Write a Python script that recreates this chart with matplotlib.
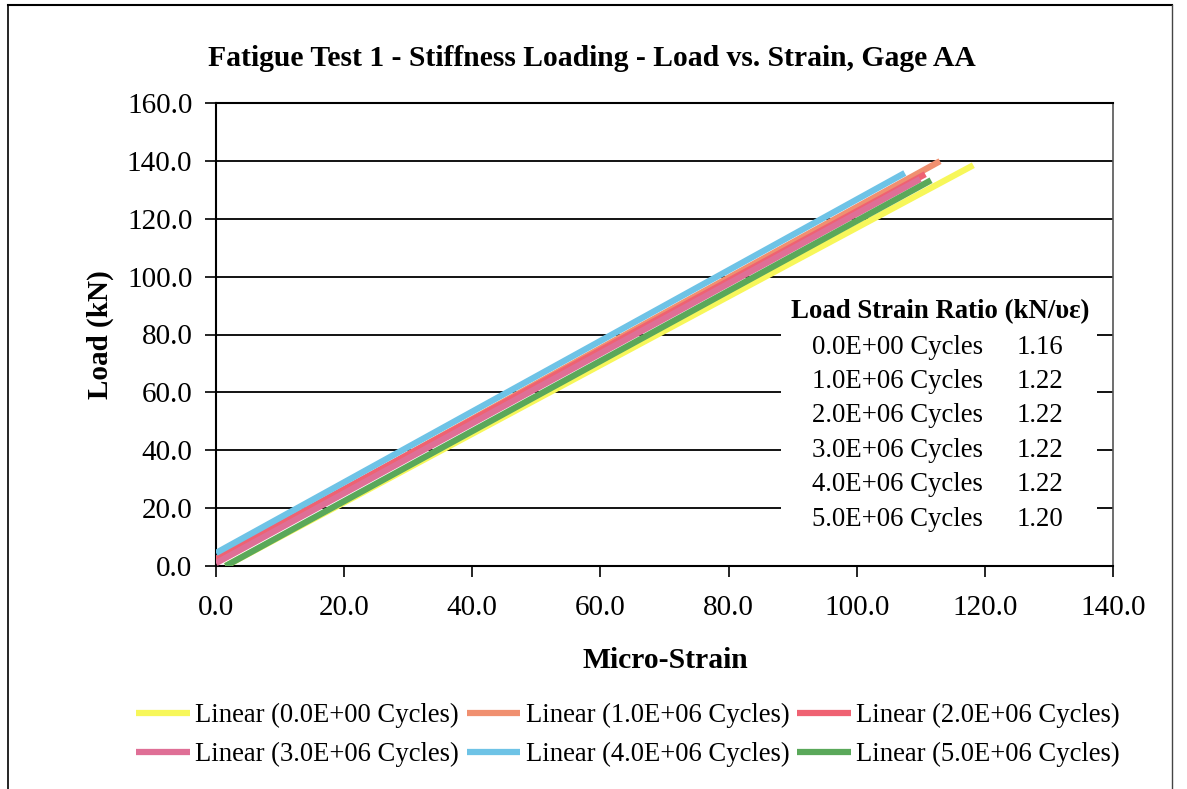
import matplotlib
matplotlib.use("Agg")
import matplotlib.pyplot as plt
from matplotlib.lines import Line2D
from matplotlib.patches import Rectangle

plt.rcParams['font.family'] = ['Liberation Serif', 'DejaVu Serif']

# ---- data ----
series_labels = ["Linear (0.0E+00 Cycles)", "Linear (1.0E+06 Cycles)", "Linear (2.0E+06 Cycles)",
                 "Linear (3.0E+06 Cycles)", "Linear (4.0E+06 Cycles)", "Linear (5.0E+06 Cycles)"]
x_start = [1.5, 0.0, 0.0, 0.0, 0.0, 1.5]
x_end = [118.2, 113.0, 110.7, 109.9, 107.5, 111.6]
y_start = [0.0, 2.0, 2.5, 1.0, 4.5, 0.0]
y_end = [138.5, 139.9, 135.4, 133.7, 135.8, 133.3]
colors = ["#f7f75a", "#f09070", "#ef6272", "#df6f96", "#6ec3e6", "#5aa85a"]

table_title = "Load Strain Ratio (kN/\u03c5\u03b5)"
table_cycles = ["0.0E+00 Cycles", "1.0E+06 Cycles", "2.0E+06 Cycles",
                "3.0E+06 Cycles", "4.0E+06 Cycles", "5.0E+06 Cycles"]
table_ratio = [1.16, 1.22, 1.22, 1.22, 1.22, 1.20]

x_ticks = [0, 20, 40, 60, 80, 100, 120, 140]
y_ticks = [0, 20, 40, 60, 80, 100, 120, 140, 160]

W, H = 1187, 789
fig = plt.figure(figsize=(W / 100, H / 100), dpi=100)
fig.patch.set_facecolor("white")

L, R, T, B = 216, 1113, 103, 566
ax = fig.add_axes([L / W, 1 - B / H, (R - L) / W, (B - T) / H])
ax.set_xlim(0, 140)
ax.set_ylim(0, 160)
ax.set_xticks(x_ticks)
ax.set_yticks(y_ticks)
ax.set_xticklabels([f"{v:.1f}" for v in x_ticks])
ax.set_yticklabels([f"{v:.1f}" for v in y_ticks])
ax.tick_params(axis='both', direction='out', length=8, width=1.2, labelsize=21, colors='black')
ax.tick_params(axis='x', pad=13)
ax.tick_params(axis='y', pad=9)
ax.yaxis.grid(True, color='black', linewidth=1.3)
ax.set_axisbelow(True)
for s in ['left', 'bottom', 'top']:
    ax.spines[s].set_color('black')
    ax.spines[s].set_linewidth(1.5)
ax.spines['right'].set_color('#555555')
ax.spines['right'].set_linewidth(1.2)

handles = []
for i in range(len(series_labels)):
    ln, = ax.plot([x_start[i], x_end[i]], [y_start[i], y_end[i]], color=colors[i],
                  linewidth=4.5, solid_capstyle='butt', label=series_labels[i], zorder=3 + i * 0.1)
    handles.append(ln)

# table box
ax.add_patch(Rectangle((0.630, 0.067), 0.352, 0.529, transform=ax.transAxes,
                       facecolor='white', edgecolor='none', zorder=2))
ax.text(0.807, 0.549, table_title, transform=ax.transAxes, ha='center', va='center',
        fontsize=19.3, fontweight='bold', zorder=4)
row_y0, row_dy = 0.473, 0.0745
for k, (c, r) in enumerate(zip(table_cycles, table_ratio)):
    yy = row_y0 - k * row_dy
    ax.text(0.760, yy, c, transform=ax.transAxes, ha='center', va='center', fontsize=19.3, zorder=4)
    ax.text(0.919, yy, f"{r:.2f}", transform=ax.transAxes, ha='center', va='center', fontsize=19.3, zorder=4)

fig.text(592 / W, 1 - 59 / H, "Fatigue Test 1 - Stiffness Loading - Load vs. Strain, Gage AA",
         ha='center', va='center', fontsize=21.3, fontweight='bold')
fig.text(665 / W, 1 - 660 / H, "Micro-Strain", ha='center', va='center', fontsize=21.3, fontweight='bold')
fig.text(100 / W, 1 - 335 / H, "Load (kN)", ha='center', va='center', rotation=90,
         fontsize=21, fontweight='bold')

order = [0, 3, 1, 4, 2, 5]
fig.legend([handles[i] for i in order], [series_labels[i] for i in order], ncol=3,
           loc='center', bbox_to_anchor=(628 / W, 1 - 735 / H), frameon=False, fontsize=19.2,
           handlelength=2.0, handletextpad=0.2, columnspacing=0.3, labelspacing=0.52,
           borderpad=0.2)

# figure border (scanned frame)
fig.add_artist(Line2D([8 / W, 8 / W], [0, 1 - 5 / H], transform=fig.transFigure, color='black', lw=1.2))
fig.add_artist(Line2D([8 / W, 1172 / W], [1 - 5 / H, 1 - 5 / H], transform=fig.transFigure, color='black', lw=1.5))
fig.add_artist(Line2D([1172 / W, 1172 / W], [0, 1 - 5 / H], transform=fig.transFigure, color='#444444', lw=1.0))

fig.savefig("out.png", dpi=100)
